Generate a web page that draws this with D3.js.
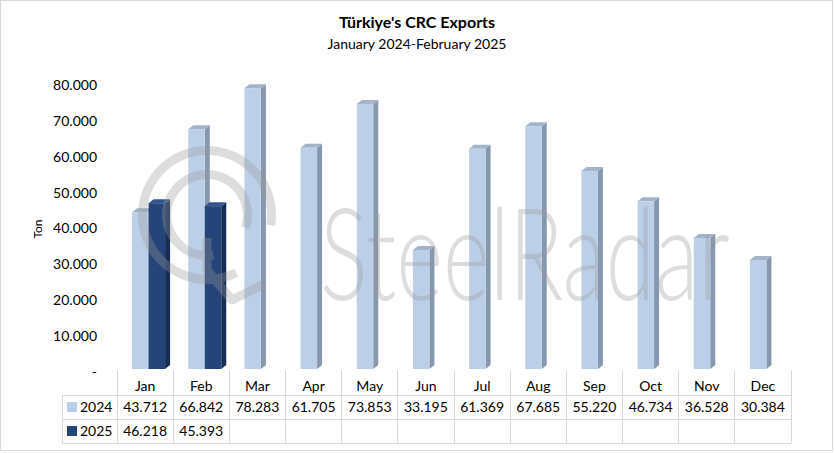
<!DOCTYPE html>
<html><head><meta charset="utf-8">
<script src="https://cdn.jsdelivr.net/npm/d3@7"></script>
<style>
html,body{margin:0;padding:0;background:#fff;}
svg{display:block;}
text{font-family:Lato,"Open Sans",sans-serif;}
</style></head>
<body>
<script>
const months = ["Jan","Feb","Mar","Apr","May","Jun","Jul","Aug","Sep","Oct","Nov","Dec"];
const seriesNames = ["2024","2025"];
const values2024 = [43712,66842,78283,61705,73853,33195,61369,67685,55220,46734,36528,30384];
const values2025 = [46218,45393];
const yTicks = [0,10000,20000,30000,40000,50000,60000,70000,80000];
const titleText = "Türkiye's CRC Exports";
const subtitleText = "January 2024-February 2025";
const yAxisTitle = "Ton";

const W = 834, H = 453;
const colors = {
  "2024": {front:"#bccfe8", side:"#8797ad", top:"#a3b4ca"},
  "2025": {front:"#254479", side:"#172d55", top:"#34558c"}
};
const loc = d3.formatLocale({decimal:",", thousands:".", grouping:[3], currency:["",""]});
const fmt = loc.format(",d");

const svg = d3.select("body").append("svg").attr("width",W).attr("height",H);

svg.append("rect").attr("x",0.5).attr("y",0.5).attr("width",W-2).attr("height",H-3)
  .attr("fill","#fff").attr("stroke","#d9d9d9").attr("stroke-width",1);

svg.append("text").attr("x",W/2).attr("y",28).attr("text-anchor","middle")
  .attr("font-size",16).attr("font-weight","bold").attr("fill","#000").text(titleText);
svg.append("text").attr("x",W/2).attr("y",49).attr("text-anchor","middle")
  .attr("font-size",14).attr("fill","#000").text(subtitleText);

const x = d3.scaleBand().domain(months).range([117,791]);
const x1 = d3.scaleBand().domain(seriesNames).range([0,33]);
const shift3d = (x.bandwidth()-33)/2 + 3.5;
const y = d3.scaleLinear().domain([0,80000]).range([369,82]);
const depthX = 5, depthY = 4;

// y axis labels
const yAxis = d3.axisLeft(y).tickValues(yTicks).tickSize(0).tickPadding(0)
  .tickFormat(d => d===0 ? "-" : fmt(d));
const gy = svg.append("g").attr("transform","translate(97,3)").call(yAxis);
gy.select(".domain").remove();
gy.selectAll("text").attr("font-size",14).attr("fill","#000").attr("font-family","Lato,sans-serif");

svg.append("text").attr("transform","translate(42,229) rotate(-90)").attr("text-anchor","middle")
  .attr("font-size",12).attr("fill","#000").text(yAxisTitle);

// bars
const data = [];
months.forEach((m,i)=>{
  seriesNames.forEach(s=>{
    const arr = s==="2024"?values2024:values2025;
    if (i < arr.length) data.push({m, s, v:arr[i]});
  });
});
const gb = svg.append("g");
data.forEach(d=>{
  const x0 = x(d.m) + shift3d + x1(d.s);
  const w = x1.bandwidth();
  const yt = y(d.v), yb = y(0);
  const c = colors[d.s];
  const g = gb.append("g");
  g.append("path").attr("d",`M${x0+w},${yt}L${x0+w+depthX},${yt-depthY}L${x0+w+depthX},${yb-depthY}L${x0+w},${yb}Z`).attr("fill",c.side);
  g.append("path").attr("d",`M${x0},${yt}L${x0+depthX},${yt-depthY}L${x0+w+depthX},${yt-depthY}L${x0+w},${yt}Z`).attr("fill",c.top);
  g.append("rect").attr("x",x0).attr("y",yt).attr("width",w).attr("height",yb-yt).attr("fill",c.front);
});

// data table
const tLeft = 62, tTop = 370, r1 = 395, r2 = 419, r3 = 443, tRight = 791;
const gt = svg.append("g").attr("stroke","#d9d9d9").attr("stroke-width",1).attr("shape-rendering","crispEdges");
months.concat(["_end"]).forEach((m,i)=>{
  const xx = m==="_end" ? tRight : x(m);
  gt.append("line").attr("x1",xx).attr("x2",xx).attr("y1",tTop).attr("y2",r3);
});
gt.append("line").attr("x1",tLeft).attr("x2",tLeft).attr("y1",r1).attr("y2",r3);
[r1,r2,r3].forEach(ry=>gt.append("line").attr("x1",tLeft).attr("x2",tRight).attr("y1",ry).attr("y2",ry));

const gtxt = svg.append("g").attr("font-size",14).attr("fill","#000");
months.forEach((m,i)=>{
  const cx = x(m)+x.bandwidth()/2;
  gtxt.append("text").attr("x",cx).attr("y",391).attr("text-anchor","middle").text(m);
  gtxt.append("text").attr("x",cx).attr("y",412).attr("text-anchor","middle").text(fmt(values2024[i]));
  if (i < values2025.length)
    gtxt.append("text").attr("x",cx).attr("y",436).attr("text-anchor","middle").text(fmt(values2025[i]));
});
seriesNames.forEach((s,i)=>{
  const ry = i===0 ? 407 : 431;
  svg.append("rect").attr("x",67).attr("y",ry-5).attr("width",10).attr("height",10).attr("fill",colors[s].front);
  svg.append("text").attr("x",80).attr("y",ry+5).attr("font-size",14).attr("fill","#000").text(s);
});

// watermark
const wm = svg.append("g").attr("opacity",0.33).attr("fill","none").attr("stroke","#9a9a9a").attr("stroke-width",9);
const arc = d3.arc();
wm.append("path").attr("transform","translate(207,215)")
  .attr("d",arc({innerRadius:60,outerRadius:69,startAngle:Math.PI*0.85,endAngle:Math.PI*2.55})).attr("fill","#9a9a9a").attr("stroke","none");
wm.append("path").attr("transform","translate(207,215)")
  .attr("d",arc({innerRadius:36,outerRadius:45,startAngle:Math.PI*0.95,endAngle:Math.PI*2.6})).attr("fill","#9a9a9a").attr("stroke","none");
wm.append("path").attr("d","M207,238 L207,270 L232,300 L262,285").attr("stroke-linejoin","round");
const wmText = svg.append("text").attr("x",0).attr("y",0).attr("font-size",128).attr("font-weight",300)
  .attr("fill","#9a9a9a").attr("opacity",0.33).text("SteelRadar");
const natW = wmText.node().getComputedTextLength() || 600;
wmText.attr("transform",`translate(320,300) scale(${410/natW},1)`);
</script>
</body></html>
